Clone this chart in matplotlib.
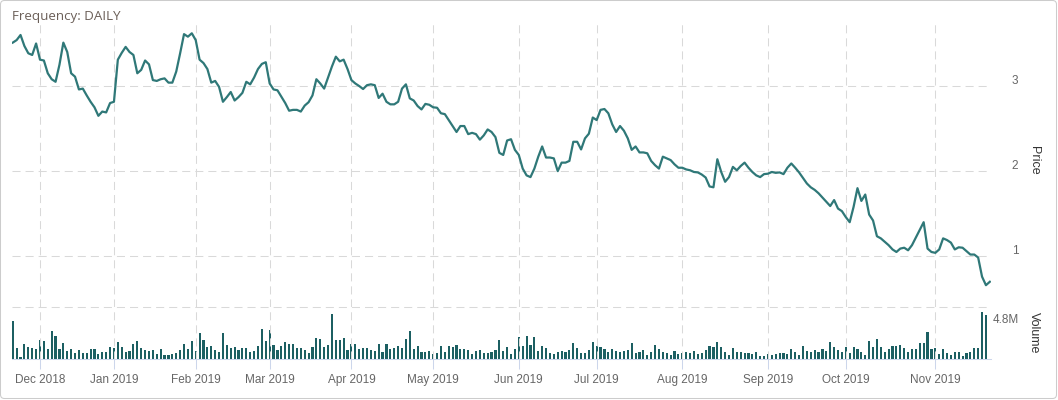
import numpy as np
import pandas as pd
import matplotlib
matplotlib.use('Agg')
import matplotlib.pyplot as plt
from matplotlib.transforms import ScaledTranslation
from matplotlib.patches import FancyBboxPatch

plt.rcParams['lines.scale_dashes'] = False

# trading days (NYSE holidays removed)
holidays = ['2018-11-22', '2018-12-05', '2018-12-25', '2019-01-01', '2019-01-21',
            '2019-02-18', '2019-04-19', '2019-05-27', '2019-07-04', '2019-09-02']
days = pd.bdate_range('2018-11-21', '2019-11-21')
days = days[~days.isin(pd.to_datetime(holidays))]

price = [
    3.51, 3.54, 3.60, 3.47, 3.385, 3.365, 3.50, 3.31, 3.30, 3.15,
    3.08, 3.05, 3.25, 3.51, 3.40, 3.15, 3.11, 2.96, 2.97, 2.89,
    2.815, 2.75, 2.65, 2.70, 2.69, 2.80, 2.815, 3.31, 3.39, 3.46,
    3.40, 3.365, 3.15, 3.19, 3.30, 3.255, 3.07, 3.06, 3.08, 3.09,
    3.04, 3.04, 3.17, 3.385, 3.61, 3.58, 3.62, 3.54, 3.31, 3.27,
    3.20, 3.04, 3.06, 2.99, 2.815, 2.87, 2.93, 2.83, 2.87, 2.92,
    3.05, 3.02, 3.10, 3.20, 3.26, 3.28, 3.03, 2.96, 2.95, 2.875,
    2.80, 2.71, 2.72, 2.72, 2.70, 2.77, 2.81, 2.89, 3.08, 3.03,
    2.97, 3.10, 3.23, 3.345, 3.29, 3.31, 3.20, 3.07, 3.03, 3.00,
    2.965, 3.01, 3.02, 3.01, 2.86, 2.91, 2.815, 2.785, 2.785, 2.815,
    2.97, 3.02, 2.855, 2.83, 2.765, 2.725, 2.79, 2.78, 2.75, 2.745,
    2.68, 2.67, 2.60, 2.53, 2.46, 2.53, 2.53, 2.435, 2.45, 2.435,
    2.37, 2.42, 2.49, 2.46, 2.40, 2.215, 2.19, 2.36, 2.375, 2.25,
    2.19, 2.03, 1.95, 1.93, 2.03, 2.17, 2.29, 2.16, 2.16, 2.15,
    2.00, 2.10, 2.10, 2.12, 2.345, 2.345, 2.255, 2.385, 2.44, 2.63,
    2.60, 2.72, 2.73, 2.68, 2.55, 2.46, 2.53, 2.475, 2.385, 2.25,
    2.29, 2.22, 2.22, 2.21, 2.12, 2.07, 2.03, 2.17, 2.15, 2.13,
    2.08, 2.04, 2.04, 2.02, 2.01, 1.99, 1.985, 1.96, 1.925, 1.82,
    1.81, 2.14, 1.99, 1.875, 1.93, 2.05, 2.01, 2.06, 2.10, 2.04,
    1.99, 1.95, 1.93, 1.965, 1.97, 1.99, 1.98, 1.985, 1.965, 2.04,
    2.09, 2.04, 1.985, 1.92, 1.855, 1.81, 1.78, 1.74, 1.69, 1.64,
    1.59, 1.66, 1.56, 1.53, 1.46, 1.40, 1.58, 1.80, 1.65, 1.725,
    1.49, 1.42, 1.235, 1.21, 1.17, 1.13, 1.08, 1.05, 1.09, 1.10,
    1.07, 1.13, 1.22, 1.31, 1.40, 1.09, 1.05, 1.04, 1.08, 1.21,
    1.19, 1.16, 1.08, 1.105, 1.10, 1.06, 1.02, 1.02, 0.985, 0.76,
    0.66, 0.70,
]

# volume in millions
volume = [
    3.53, 1.02, 0.19, 1.39, 1.11, 1.02, 0.93, 1.76, 1.67, 0.93,
    2.60, 2.14, 0.93, 1.49, 0.74, 0.93, 0.56, 0.84, 0.56, 0.56,
    0.93, 0.93, 0.46, 0.65, 0.65, 1.11, 1.02, 1.58, 1.11, 0.65,
    0.74, 1.39, 1.67, 1.02, 0.84, 0.74, 0.84, 0.46, 0.93, 0.37,
    0.37, 0.46, 0.56, 0.84, 1.39, 0.93, 1.67, 0.74, 2.41, 1.76,
    1.11, 1.21, 0.84, 0.65, 2.41, 1.30, 1.02, 1.11, 0.84, 1.02,
    1.02, 0.65, 0.74, 1.21, 2.79, 1.67, 2.69, 1.30, 0.84, 1.21,
    1.58, 1.39, 1.39, 1.02, 1.02, 0.84, 0.56, 1.11, 1.95, 1.86,
    1.11, 1.30, 4.18, 1.76, 1.76, 1.95, 0.84, 1.39, 1.39, 0.93,
    1.02, 1.02, 0.84, 0.74, 1.39, 0.65, 1.39, 0.93, 1.02, 1.21,
    1.02, 1.86, 2.60, 0.93, 1.21, 0.65, 0.65, 0.74, 0.46, 0.56,
    1.21, 0.65, 1.21, 1.11, 1.30, 0.93, 0.93, 0.84, 0.46, 0.74,
    0.84, 0.56, 0.56, 0.65, 0.84, 1.76, 0.74, 1.11, 0.46, 0.93,
    2.04, 1.21, 2.14, 1.30, 2.04, 0.74, 1.21, 1.02, 0.56, 0.46,
    0.65, 0.74, 0.65, 0.84, 1.49, 1.02, 0.56, 0.56, 0.84, 1.58,
    1.21, 1.11, 0.93, 0.65, 0.93, 0.74, 0.65, 0.74, 0.84, 1.49,
    0.56, 0.65, 0.84, 0.37, 0.65, 1.30, 0.93, 0.65, 0.56, 0.37,
    0.74, 0.46, 0.56, 0.65, 0.56, 0.74, 0.46, 0.56, 0.84, 1.21,
    1.11, 1.58, 1.11, 0.65, 0.37, 1.02, 0.65, 0.65, 0.56, 0.56,
    0.46, 0.65, 0.28, 0.28, 0.46, 0.37, 0.46, 0.56, 0.56, 0.46,
    0.93, 0.65, 0.37, 1.21, 0.74, 0.65, 0.84, 0.65, 0.93, 0.74,
    1.58, 1.11, 0.84, 0.65, 1.11, 0.56, 1.11, 0.93, 0.65, 0.37,
    1.67, 1.11, 1.86, 1.11, 0.65, 0.93, 1.21, 1.21, 1.30, 1.02,
    0.65, 0.93, 0.93, 1.49, 1.49, 2.51, 0.93, 1.02, 0.46, 0.93,
    0.56, 0.37, 0.65, 0.65, 0.28, 0.56, 0.65, 1.02, 1.02, 4.40,
    4.09, 0.0,
]

price_ticks = [1, 2, 3]
volume_max = 4.8

idx = np.arange(len(days))
month_pos = [i for i in range(1, len(days)) if days[i].month != days[i - 1].month]
month_labels = [days[i].strftime('%b %Y') for i in month_pos]

W, H = 1058, 400
fig = plt.figure(figsize=(W / 100, H / 100), dpi=100)


def px_rect(x0, y0, x1, y1):
    return [x0 / W, 1 - y1 / H, (x1 - x0) / W, (y1 - y0) / H]


grid_kw = dict(color='#d9d9d9', linewidth=0.75, linestyle=(0, (5.8, 3.6)))
label_font = 'Liberation Sans'

ax = fig.add_axes(px_rect(12, 20, 991, 307.3))
axv = fig.add_axes(px_rect(12, 307.3, 991, 359), sharex=ax)

# price line
ax.plot(idx, price, color='#2f7878', linewidth=1.6, solid_joinstyle='round')
ax.set_xlim(-0.19, 251.3)
ax.set_ylim(0.40, 3.776)
ax.set_yticks(price_ticks)
ax.set_yticklabels([str(t) for t in price_ticks])
ax.set_xticks(month_pos)
ax.grid(True, **grid_kw)
for s in ax.spines.values():
    s.set_visible(False)
ax.yaxis.tick_right()
ax.tick_params(axis='x', length=0, labelbottom=False)
ax.tick_params(axis='y', length=0, pad=15, labelsize=8.5, labelcolor='#666666')
for lab in ax.get_yticklabels():
    lab.set_fontfamily(label_font)
    lab.set_transform(lab.get_transform() + ScaledTranslation(0, 0.07, fig.dpi_scale_trans))
ax.yaxis.set_label_position('right')
ax.set_ylabel('Price', rotation=270, fontsize=9, color='#333333', family=label_font,
              ha='center', va='center')
ax.yaxis.set_label_coords(1.044, 0.513)

# volume bars
axv.bar(idx, volume, width=0.55, color='#1c5f62', linewidth=0)
axv.set_ylim(0, volume_max)
axv.set_yticks([volume_max])
axv.set_yticklabels(['4.8M'])
axv.grid(True, **grid_kw)
for gl in axv.get_ygridlines() + axv.get_xgridlines():
    gl.set_clip_on(False)
for name, s in axv.spines.items():
    s.set_visible(name == 'bottom')
axv.spines['bottom'].set_color('#ccd6eb')
axv.spines['bottom'].set_linewidth(0.75)
axv.yaxis.tick_right()
axv.tick_params(axis='y', length=0, pad=1, labelsize=8.5, labelcolor='#666666')
for lab in axv.get_yticklabels():
    lab.set_fontfamily(label_font)
    lab.set_transform(lab.get_transform() + ScaledTranslation(0, -0.11, fig.dpi_scale_trans))
axv.set_xticks(month_pos)
axv.set_xticklabels(month_labels, fontsize=8.5, color='#666666', family=label_font)
axv.tick_params(axis='x', length=7, width=0.75, color='#ccd6eb', pad=4)
axv.yaxis.set_label_position('right')
axv.set_ylabel('Volume', rotation=270, fontsize=9, color='#333333', family=label_font,
               ha='center', va='center')
axv.yaxis.set_label_coords(1.044, 0.50)

fig.text(12 / W, 1 - 16.5 / H, 'Frequency: DAILY', ha='left', va='center',
         fontsize=9.6, color='#6b5f58', family='Open Sans')

border = FancyBboxPatch((0.005, 0.015), 10.56, 3.98, boxstyle='round,pad=0,rounding_size=0.04',
                        transform=fig.dpi_scale_trans, fill=False, edgecolor='#cccccc',
                        linewidth=0.75)
fig.add_artist(border)

fig.savefig('out.png', dpi=100)
